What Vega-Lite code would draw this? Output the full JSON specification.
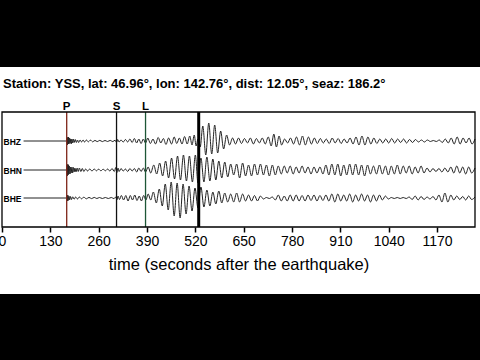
{
"$schema": "https://vega.github.io/schema/vega-lite/v6.json",
"width": 473, "height": 115,
"autosize": {"type": "none"},
"padding": {"left": 2, "top": 112, "right": 5, "bottom": 133},
"background": "black",
"config": {"view": {"stroke": null}, "font": "Liberation Sans"},
"title": {"text": "Station: YSS, lat: 46.96°, lon: 142.76°, dist: 12.05°, seaz: 186.2°", "anchor": "start", "frame": "group", "orient": "top", "font": "Liberation Sans", "fontSize": 13, "fontWeight": "bold", "color": "black", "baseline": "alphabetic", "offset": -34, "dx": 1},
"datasets": {
"bg": [{"t1": -20, "t2": 1320, "y1": -67, "y2": 160}],
"frame": [{"t1": 0, "t2": 1272, "y1": 0, "y2": 115}],
"ph": [{"t": 174, "lab": "P"}, {"t": 308, "lab": "S"}, {"t": 386, "lab": "L"}],
"cursor": [{"t": 529}],
"bhz": [{"t":58,"a":0},{"t":174,"a":0},{"t":175,"a":3},{"t":176,"a":-4},{"t":177,"a":4},{"t":178,"a":-3},{"t":179,"a":4},{"t":180,"a":-3},{"t":182,"a":3},{"t":183,"a":-2},{"t":185,"a":2},{"t":186,"a":-3},{"t":188,"a":2},{"t":190,"a":-2},{"t":192,"a":2},{"t":194,"a":-1.5},{"t":197,"a":1.5},{"t":200,"a":-1.5},{"t":203,"a":1},{"t":206,"a":-1.5},{"t":210,"a":1},{"t":214,"a":-1},{"t":218,"a":1},{"t":222,"a":-1},{"t":227,"a":1},{"t":232,"a":-0.8},{"t":238,"a":0.8},{"t":244,"a":-0.8},{"t":250,"a":0.6},{"t":256,"a":-0.6},{"t":263,"a":0.6},{"t":270,"a":-0.6},{"t":277,"a":0.5},{"t":284,"a":-0.5},{"t":291,"a":0.6},{"t":298,"a":-0.6},{"t":304,"a":0.8},{"t":308,"a":-1.5},{"t":311,"a":1.5},{"t":315,"a":-1},{"t":320,"a":1},{"t":326,"a":-1},{"t":332,"a":1.5},{"t":338,"a":-1},{"t":344,"a":2},{"t":350,"a":-1.5},{"t":356,"a":2.5},{"t":362,"a":-2},{"t":368,"a":2},{"t":374,"a":-2.5},{"t":380,"a":2},{"t":386,"a":-2},{"t":392,"a":3},{"t":399,"a":-2.5},{"t":406,"a":2},{"t":413,"a":-3},{"t":420,"a":3.5},{"t":427,"a":-2},{"t":434,"a":2.5},{"t":441,"a":-3.5},{"t":448,"a":3},{"t":456,"a":-3},{"t":463,"a":4},{"t":470,"a":-2.5},{"t":477,"a":3},{"t":484,"a":-3},{"t":491,"a":4.5},{"t":498,"a":-3},{"t":505,"a":5},{"t":511,"a":-4},{"t":517,"a":6},{"t":522,"a":-5},{"t":527,"a":2},{"t":533,"a":-6},{"t":540,"a":15},{"t":548,"a":-14},{"t":556,"a":18},{"t":564,"a":-13},{"t":572,"a":16},{"t":580,"a":-12},{"t":588,"a":10},{"t":596,"a":-8},{"t":604,"a":6},{"t":612,"a":-4},{"t":620,"a":3},{"t":628,"a":-3},{"t":636,"a":3},{"t":644,"a":-2.5},{"t":652,"a":2.5},{"t":660,"a":-2},{"t":668,"a":3},{"t":676,"a":-3},{"t":684,"a":2.5},{"t":692,"a":-2},{"t":700,"a":3},{"t":708,"a":-3},{"t":716,"a":4},{"t":724,"a":-5},{"t":731,"a":7},{"t":738,"a":-6},{"t":745,"a":5},{"t":752,"a":-4},{"t":760,"a":2},{"t":768,"a":-2},{"t":776,"a":3},{"t":784,"a":-3},{"t":792,"a":4},{"t":800,"a":-4},{"t":808,"a":5},{"t":816,"a":-4},{"t":824,"a":4},{"t":832,"a":-3},{"t":840,"a":3},{"t":848,"a":-2.5},{"t":856,"a":2.5},{"t":864,"a":-2},{"t":872,"a":2},{"t":880,"a":-2.5},{"t":888,"a":3},{"t":896,"a":-2},{"t":904,"a":2.5},{"t":912,"a":-2.5},{"t":920,"a":2},{"t":928,"a":-2},{"t":936,"a":3},{"t":944,"a":-3},{"t":952,"a":4},{"t":960,"a":-4},{"t":968,"a":5},{"t":976,"a":-4},{"t":984,"a":4},{"t":992,"a":-3},{"t":1000,"a":3},{"t":1008,"a":-2.5},{"t":1016,"a":2},{"t":1024,"a":-2},{"t":1032,"a":2},{"t":1040,"a":-2},{"t":1048,"a":2.5},{"t":1056,"a":-2},{"t":1064,"a":2},{"t":1072,"a":-1.5},{"t":1080,"a":2},{"t":1088,"a":-2},{"t":1096,"a":1.5},{"t":1104,"a":-1.5},{"t":1112,"a":1.5},{"t":1120,"a":-1},{"t":1128,"a":1},{"t":1136,"a":-1},{"t":1144,"a":1},{"t":1152,"a":-0.5},{"t":1160,"a":0.5},{"t":1168,"a":-0.5},{"t":1176,"a":1},{"t":1184,"a":-1.5},{"t":1192,"a":2},{"t":1200,"a":-2},{"t":1208,"a":3},{"t":1216,"a":-3},{"t":1224,"a":4},{"t":1232,"a":-3},{"t":1240,"a":3},{"t":1248,"a":-2},{"t":1256,"a":3},{"t":1264,"a":-3},{"t":1272,"a":2}],
"bhn": [{"t":58,"a":0},{"t":174,"a":0},{"t":175,"a":5},{"t":176,"a":-6},{"t":177,"a":6},{"t":178,"a":-5},{"t":179,"a":5},{"t":180,"a":-4},{"t":181,"a":4},{"t":183,"a":-4},{"t":184,"a":3},{"t":186,"a":-3},{"t":188,"a":3},{"t":190,"a":-3},{"t":192,"a":2.5},{"t":194,"a":-2},{"t":196,"a":2},{"t":199,"a":-2},{"t":202,"a":2},{"t":205,"a":-1.5},{"t":208,"a":2},{"t":212,"a":-1.5},{"t":216,"a":1.5},{"t":220,"a":-1.5},{"t":225,"a":1},{"t":230,"a":-1},{"t":236,"a":1},{"t":242,"a":-1},{"t":248,"a":1},{"t":254,"a":-0.8},{"t":260,"a":0.8},{"t":266,"a":-0.8},{"t":272,"a":0.8},{"t":278,"a":-0.8},{"t":284,"a":1},{"t":290,"a":-1},{"t":296,"a":1.5},{"t":302,"a":-1.5},{"t":306,"a":2.5},{"t":309,"a":-2.5},{"t":312,"a":2},{"t":315,"a":-1.5},{"t":320,"a":1.5},{"t":326,"a":-1},{"t":332,"a":1},{"t":338,"a":-1.5},{"t":344,"a":1.5},{"t":350,"a":-1},{"t":356,"a":1.5},{"t":362,"a":-2},{"t":368,"a":2},{"t":374,"a":-1.5},{"t":380,"a":2},{"t":386,"a":-2},{"t":393,"a":3},{"t":400,"a":-3},{"t":408,"a":5},{"t":416,"a":-4},{"t":424,"a":7},{"t":432,"a":-6},{"t":440,"a":9},{"t":448,"a":-8},{"t":456,"a":12},{"t":464,"a":-9},{"t":472,"a":14},{"t":480,"a":-10},{"t":488,"a":15},{"t":496,"a":-11},{"t":504,"a":14},{"t":512,"a":-12},{"t":520,"a":15},{"t":527,"a":-13},{"t":535,"a":12},{"t":543,"a":-12},{"t":551,"a":13},{"t":559,"a":-11},{"t":567,"a":11},{"t":575,"a":-10},{"t":583,"a":9},{"t":591,"a":-8},{"t":599,"a":8},{"t":607,"a":-7},{"t":615,"a":6},{"t":623,"a":-5},{"t":631,"a":6},{"t":639,"a":-8},{"t":647,"a":7},{"t":655,"a":-6},{"t":663,"a":5},{"t":671,"a":-6},{"t":679,"a":6},{"t":687,"a":-5},{"t":695,"a":6},{"t":703,"a":-5},{"t":711,"a":5},{"t":719,"a":-6},{"t":727,"a":5},{"t":735,"a":-5},{"t":743,"a":4},{"t":751,"a":-4},{"t":759,"a":4},{"t":767,"a":-3},{"t":775,"a":4},{"t":783,"a":-4},{"t":791,"a":3},{"t":799,"a":-3},{"t":807,"a":4},{"t":815,"a":-3},{"t":823,"a":3},{"t":831,"a":-4},{"t":839,"a":3},{"t":847,"a":-3},{"t":855,"a":3},{"t":863,"a":-4},{"t":871,"a":5},{"t":879,"a":-5},{"t":887,"a":6},{"t":895,"a":-5},{"t":903,"a":6},{"t":911,"a":-6},{"t":919,"a":5},{"t":927,"a":-5},{"t":935,"a":6},{"t":943,"a":-5},{"t":951,"a":6},{"t":959,"a":-5},{"t":967,"a":5},{"t":975,"a":-6},{"t":983,"a":5},{"t":991,"a":-4},{"t":999,"a":4},{"t":1007,"a":-4},{"t":1015,"a":5},{"t":1023,"a":-4},{"t":1031,"a":4},{"t":1039,"a":-5},{"t":1047,"a":4},{"t":1055,"a":-4},{"t":1063,"a":5},{"t":1071,"a":-4},{"t":1079,"a":4},{"t":1087,"a":-3},{"t":1095,"a":4},{"t":1103,"a":-4},{"t":1111,"a":3},{"t":1119,"a":-3},{"t":1127,"a":4},{"t":1135,"a":-3},{"t":1143,"a":2},{"t":1151,"a":-2},{"t":1159,"a":1.5},{"t":1167,"a":-1.5},{"t":1175,"a":1.5},{"t":1183,"a":-2},{"t":1191,"a":2},{"t":1199,"a":-2},{"t":1207,"a":3},{"t":1215,"a":-3},{"t":1223,"a":4},{"t":1231,"a":-3},{"t":1239,"a":3},{"t":1247,"a":-4},{"t":1255,"a":3},{"t":1263,"a":-3},{"t":1272,"a":2}],
"bhe": [{"t":58,"a":0},{"t":174,"a":0},{"t":175,"a":2.5},{"t":176,"a":-3},{"t":177,"a":3},{"t":178,"a":-2.5},{"t":180,"a":2},{"t":182,"a":-2},{"t":184,"a":1.5},{"t":187,"a":-1.5},{"t":190,"a":1.2},{"t":194,"a":-1.2},{"t":198,"a":1},{"t":203,"a":-1},{"t":208,"a":1},{"t":214,"a":-0.8},{"t":220,"a":0.8},{"t":227,"a":-0.8},{"t":234,"a":0.6},{"t":241,"a":-0.6},{"t":248,"a":0.6},{"t":255,"a":-0.5},{"t":262,"a":0.5},{"t":270,"a":-0.5},{"t":278,"a":0.5},{"t":286,"a":-0.5},{"t":294,"a":0.5},{"t":301,"a":-0.6},{"t":306,"a":1},{"t":309,"a":-2},{"t":312,"a":2},{"t":316,"a":-1.5},{"t":321,"a":2.5},{"t":327,"a":-2},{"t":333,"a":2.5},{"t":339,"a":-3},{"t":345,"a":2.5},{"t":351,"a":-2},{"t":357,"a":3},{"t":363,"a":-2.5},{"t":369,"a":2},{"t":375,"a":-3},{"t":381,"a":2.5},{"t":387,"a":-2},{"t":393,"a":4},{"t":400,"a":-2},{"t":407,"a":6},{"t":415,"a":-5},{"t":423,"a":9},{"t":431,"a":-8},{"t":439,"a":14},{"t":447,"a":-12},{"t":455,"a":16},{"t":463,"a":-18},{"t":471,"a":15},{"t":479,"a":-20},{"t":487,"a":14},{"t":495,"a":-16},{"t":503,"a":12},{"t":511,"a":-13},{"t":519,"a":10},{"t":527,"a":-10},{"t":535,"a":11},{"t":543,"a":-9},{"t":551,"a":8},{"t":559,"a":-8},{"t":567,"a":6},{"t":575,"a":-6},{"t":583,"a":7},{"t":591,"a":-5},{"t":599,"a":5},{"t":607,"a":-4},{"t":615,"a":4},{"t":623,"a":-4},{"t":631,"a":5},{"t":639,"a":-4},{"t":647,"a":4},{"t":655,"a":-3},{"t":663,"a":3},{"t":671,"a":-3},{"t":679,"a":2.5},{"t":687,"a":-3},{"t":695,"a":2},{"t":703,"a":-1},{"t":711,"a":0.5},{"t":719,"a":-0.5},{"t":727,"a":1},{"t":735,"a":-2},{"t":743,"a":3},{"t":751,"a":-3},{"t":759,"a":2},{"t":767,"a":-3},{"t":775,"a":3},{"t":783,"a":-3},{"t":791,"a":3},{"t":799,"a":-3},{"t":807,"a":2.5},{"t":815,"a":-3},{"t":823,"a":3},{"t":831,"a":-2.5},{"t":839,"a":3},{"t":847,"a":-3},{"t":855,"a":2.5},{"t":863,"a":-2.5},{"t":871,"a":3},{"t":879,"a":-3},{"t":887,"a":4},{"t":895,"a":-4},{"t":903,"a":4},{"t":911,"a":-3},{"t":919,"a":3},{"t":927,"a":-3},{"t":935,"a":4},{"t":943,"a":-4},{"t":951,"a":3},{"t":959,"a":-3},{"t":967,"a":4},{"t":975,"a":-3},{"t":983,"a":3},{"t":991,"a":-4},{"t":999,"a":3},{"t":1007,"a":-3},{"t":1015,"a":3},{"t":1023,"a":-2},{"t":1031,"a":2},{"t":1039,"a":-1},{"t":1047,"a":0.5},{"t":1055,"a":-0.5},{"t":1063,"a":0.5},{"t":1071,"a":-0.5},{"t":1079,"a":0.5},{"t":1087,"a":-0.5},{"t":1095,"a":1},{"t":1103,"a":-1.5},{"t":1111,"a":2},{"t":1119,"a":-2},{"t":1127,"a":1.5},{"t":1135,"a":-1.5},{"t":1143,"a":1},{"t":1151,"a":-1},{"t":1159,"a":1.5},{"t":1167,"a":-2},{"t":1175,"a":3},{"t":1183,"a":-4},{"t":1191,"a":5},{"t":1199,"a":-4},{"t":1207,"a":3},{"t":1215,"a":-2},{"t":1223,"a":2},{"t":1231,"a":-1.5},{"t":1239,"a":1.5},{"t":1247,"a":-2},{"t":1255,"a":2},{"t":1263,"a":-1.5},{"t":1272,"a":1}]
},
"layer": [
 {"data": {"name": "bg"}, "mark": {"type": "rect", "color": "white"},
  "encoding": {
   "x": {"field": "t1", "type": "quantitative", "scale": {"domain": [0, 1272], "nice": false},
    "axis": {"orient": "bottom", "values": [0,130,260,390,520,650,780,910,1040,1170], "format": "d", "domain": false, "grid": false, "tickSize": 5, "tickWidth": 1.5, "tickColor": "black", "labelFont": "Liberation Sans", "labelFontSize": 14, "labelColor": "black", "labelPadding": 2, "labelFlush": false, "labelOverlap": false, "title": "time (seconds after the earthquake)", "titleFont": "Liberation Sans", "titleFontSize": 16.5, "titleFontWeight": "normal", "titleColor": "black", "titlePadding": 8, "zindex": 1}},
   "x2": {"field": "t2"},
   "y": {"field": "y1", "type": "quantitative", "scale": {"domain": [0, 115], "nice": false, "zero": false}, "axis": null},
   "y2": {"field": "y2"}}},
 {"layer": [
   {"data": {"name": "bhz"}, "mark": {"type": "line", "color": "#222222", "strokeWidth": 1, "interpolate": "monotone"},
    "encoding": {
     "x": {"field": "t", "type": "quantitative", "scale": {"domain": [0, 1272], "nice": false},
      "axis": {"orient": "top", "values": [0,130,260,390,520,650,780,910,1040,1170], "domain": false, "grid": false, "labels": false, "tickSize": 5, "tickWidth": 1.5, "tickColor": "black", "title": null, "zindex": 1}},
     "y": {"field": "a", "type": "quantitative", "scale": {"domain": [-86, 29], "nice": false, "zero": false}, "axis": null}}},
   {"data": {"values": [{"lab": "BHZ"}]}, "mark": {"type": "text", "align": "left", "baseline": "middle", "dy": 1, "fontSize": 8.5, "fontWeight": "bold", "color": "black"},
    "encoding": {
     "x": {"datum": 4, "type": "quantitative", "scale": {"domain": [0, 1272], "nice": false}, "axis": null},
     "y": {"datum": 0, "type": "quantitative", "scale": {"domain": [-86, 29], "nice": false, "zero": false}, "axis": null},
     "text": {"field": "lab"}}}
 ]},
 {"layer": [
   {"data": {"name": "bhn"}, "mark": {"type": "line", "color": "#222222", "strokeWidth": 1, "interpolate": "monotone"},
    "encoding": {
     "x": {"field": "t", "type": "quantitative", "scale": {"domain": [0, 1272], "nice": false},
      "axis": {"orient": "bottom", "values": [65,195,325,455,585,715,845,975,1105,1235], "domain": false, "grid": false, "labels": false, "tickSize": 2, "tickWidth": 2, "tickColor": "black", "title": null, "zindex": 1}},
     "y": {"field": "a", "type": "quantitative", "scale": {"domain": [-57, 58], "nice": false, "zero": false}, "axis": null}}},
   {"data": {"values": [{"lab": "BHN"}]}, "mark": {"type": "text", "align": "left", "baseline": "middle", "dy": 1, "fontSize": 8.5, "fontWeight": "bold", "color": "black"},
    "encoding": {
     "x": {"datum": 4, "type": "quantitative", "scale": {"domain": [0, 1272], "nice": false}, "axis": null},
     "y": {"datum": 0, "type": "quantitative", "scale": {"domain": [-57, 58], "nice": false, "zero": false}, "axis": null},
     "text": {"field": "lab"}}}
 ]},
 {"layer": [
   {"data": {"name": "bhe"}, "mark": {"type": "line", "color": "#222222", "strokeWidth": 1, "interpolate": "monotone"},
    "encoding": {
     "x": {"field": "t", "type": "quantitative", "scale": {"domain": [0, 1272], "nice": false},
      "axis": {"orient": "top", "values": [65,195,325,455,585,715,845,975,1105,1235], "domain": false, "grid": false, "labels": false, "tickSize": 2, "tickWidth": 2, "tickColor": "black", "title": null, "zindex": 1}},
     "y": {"field": "a", "type": "quantitative", "scale": {"domain": [-29, 86], "nice": false, "zero": false}, "axis": null}}},
   {"data": {"values": [{"lab": "BHE"}]}, "mark": {"type": "text", "align": "left", "baseline": "middle", "dy": 1, "fontSize": 8.5, "fontWeight": "bold", "color": "black"},
    "encoding": {
     "x": {"datum": 4, "type": "quantitative", "scale": {"domain": [0, 1272], "nice": false}, "axis": null},
     "y": {"datum": 0, "type": "quantitative", "scale": {"domain": [-29, 86], "nice": false, "zero": false}, "axis": null},
     "text": {"field": "lab"}}}
 ]},
 {"data": {"name": "ph"}, "mark": {"type": "rule", "strokeWidth": 1.3},
  "encoding": {
   "x": {"field": "t", "type": "quantitative", "scale": {"domain": [0, 1272], "nice": false}, "axis": null},
   "color": {"field": "lab", "type": "nominal", "scale": {"domain": ["P", "S", "L"], "range": ["#7e2418", "#111111", "#1d5636"]}, "legend": null}}},
 {"data": {"name": "cursor"}, "mark": {"type": "rule", "strokeWidth": 3, "color": "black"},
  "encoding": {
   "x": {"field": "t", "type": "quantitative", "scale": {"domain": [0, 1272], "nice": false}, "axis": null}}},
 {"layer": [
   {"data": {"name": "frame"}, "mark": {"type": "rect", "filled": false, "color": "black", "strokeWidth": 1.3},
    "encoding": {
     "x": {"field": "t1", "type": "quantitative", "scale": {"domain": [0, 1272], "nice": false}, "axis": null},
     "x2": {"field": "t2"},
     "y": {"field": "y1", "type": "quantitative", "scale": {"domain": [0, 115], "nice": false, "zero": false}, "axis": null},
     "y2": {"field": "y2"}}},
   {"data": {"name": "ph"}, "mark": {"type": "text", "baseline": "bottom", "dy": -0.5, "fontSize": 11.5, "fontWeight": "bold", "color": "black"},
    "encoding": {
     "x": {"field": "t", "type": "quantitative", "scale": {"domain": [0, 1272], "nice": false}, "axis": null},
     "y": {"datum": 115, "type": "quantitative", "scale": {"domain": [0, 115], "nice": false, "zero": false}, "axis": null},
     "text": {"field": "lab"}}}
 ]}
],
"resolve": {"scale": {"y": "independent"}, "axis": {"x": "independent"}}
}
